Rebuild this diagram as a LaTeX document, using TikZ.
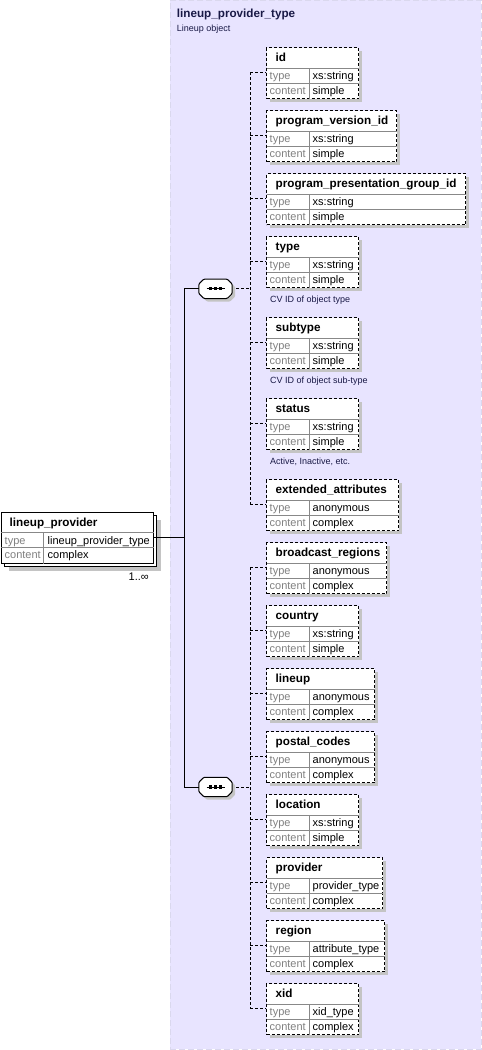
\documentclass[tikz,border=0pt]{standalone}
\usepackage{fontspec}
\setmainfont{Liberation Sans}
\usetikzlibrary{positioning,shadows}
\definecolor{schemabg}{RGB}{232,228,255}
\definecolor{schemaedge}{RGB}{218,216,238}
\definecolor{rowgray}{RGB}{136,136,136}
\definecolor{labelgray}{RGB}{128,128,128}
\definecolor{notenavy}{RGB}{25,25,70}
\definecolor{shadowgray}{RGB}{196,196,196}
% octagon outline of a sequence compositor node
\newcommand\seqoutline[1]{([xshift=5pt]#1.north west) -- ([xshift=-5pt]#1.north east)
    -- ([yshift=-5pt]#1.north east) -- ([yshift=5pt]#1.south east)
    -- ([xshift=-5pt]#1.south east) -- ([xshift=5pt]#1.south west)
    -- ([yshift=5pt]#1.south west) -- ([yshift=-5pt]#1.north west) -- cycle}

\begin{document}
\begin{tikzpicture}[x=1pt, y=-1pt,
    font=\fontsize{11}{13}\selectfont,
    schemabox/.style={draw=schemaedge, dash pattern=on 6pt off 3pt, fill=schemabg, minimum width=311pt, minimum height=1049pt, inner sep=0pt, anchor=north west},
    elembox/.style={draw, line width=1pt, dash pattern=on 3pt off 2pt, fill=white, minimum height=51pt, inner sep=0pt, anchor=north west,
        drop shadow={shadow xshift=3pt, shadow yshift=-3pt, fill=shadowgray, opacity=1}},
    rootbox/.style={draw, line width=1pt, fill=white, minimum width=152pt, minimum height=51pt, inner sep=0pt, anchor=north west},
    seqbox/.style={minimum width=33pt, minimum height=19pt, inner sep=0pt},
    seqline/.style={draw, line width=1pt, fill=white, rounded corners=1pt},
    rowline/.style={draw=rowgray, line width=1pt},
    nametext/.style={font=\fontsize{11.7}{13}\selectfont\bfseries, anchor=base west, inner sep=0pt},
    headtext/.style={nametext, text=notenavy},
    keytext/.style={text=labelgray, anchor=base west, inner sep=0pt},
    valtext/.style={anchor=base west, inner sep=0pt},
    notetext/.style={font=\fontsize{9}{11}\selectfont, text=notenavy, anchor=base west, inner sep=0pt},
    link/.style={line width=1pt},
    dashlink/.style={line width=1pt, dash pattern=on 3pt off 2pt}
]
    \useasboundingbox (0,0) rectangle (482,1050);

    % complex type area
    \node[schemabox] (lpt) at (170,0) {};
    \node[headtext] (lpt-name) at (176.7,17.3) {lineup\_provider\_type};
    \node[notetext] (lpt-note) at (176.7,31) {Lineup object};

    % root element (maxOccurs unbounded)
    \node[rootbox, drop shadow={shadow xshift=4pt, shadow yshift=-4pt, fill=shadowgray, opacity=1}] (lp-back) at (4,515.3) {};
    \node[rootbox] (lp) at (1,512.3) {};
    \draw[rowline] ([yshift=-20pt]lp.north west) -- ([yshift=-20pt]lp.north east);
    \draw[rowline] ([yshift=-35.5pt]lp.north west) -- ([yshift=-35.5pt]lp.north east);
    \draw[rowline] ([xshift=42pt,yshift=-20pt]lp.north west) -- ([xshift=42pt]lp.south west);
    \node[nametext] (lp-name) at ([xshift=8.5pt,yshift=-13.7pt]lp.north west) {lineup\_provider};
    \node[keytext] (lp-typekey) at ([xshift=3.5pt,yshift=-31.7pt]lp.north west) {type};
    \node[valtext] (lp-type) at ([xshift=46.5pt,yshift=-31.7pt]lp.north west) {lineup\_provider\_type};
    \node[keytext] (lp-contkey) at ([xshift=3.5pt,yshift=-46.4pt]lp.north west) {content};
    \node[valtext] (lp-cont) at ([xshift=46.5pt,yshift=-46.4pt]lp.north west) {complex};
    \node[valtext, anchor=base east] (lp-occurs) at ([xshift=-5pt,yshift=-16.5pt]lp.south east) {1..∞};
    \coordinate (lp-out) at ([yshift=-25.5pt]lp.north east);

    % sequences
    \node[seqbox] (seq1) at (215.5,288.8) {};
    \node[seqbox] (seq2) at (215.5,787) {};
    \foreach \s in {seq1,seq2} {
        \fill[shadowgray, rounded corners=1pt, transform canvas={shift={(3pt,-3pt)}}] \seqoutline{\s};
        \path[seqline] \seqoutline{\s};
        \draw[line width=1pt] ([xshift=-9pt]\s.center) -- ([xshift=9pt]\s.center);
        \foreach \dx in {-5,0,5}
            \fill ([xshift=\dx pt]\s.center) +(-1.6,-1.6) rectangle +(1.6,1.6);
    }
    \coordinate (fork) at ([xshift=-14pt]seq1.west);
    \coordinate (s1) at ([xshift=18pt]seq1.east);
    \coordinate (s2) at ([xshift=18pt]seq2.east);

    \draw[link] (lp-out) -- (fork |- lp-out);
    \draw[link] (seq1.west) -- (fork) |- (seq2.west);
    \draw[dashlink] ([xshift=4pt]seq1.east) -- (s1);
    \draw[dashlink] ([xshift=4pt]seq2.east) -- (s2);

    % child elements
    \foreach \n/\y/\bw/\nm/\tp/\ct/\g in {
        id/47/92/id/xs:string/simple/1,
        pvid/110/130/program\_version\_id/xs:string/simple/1,
        ppgid/173/199/program\_presentation\_group\_id/xs:string/simple/1,
        type/236/92/type/xs:string/simple/1,
        subtype/317/92/subtype/xs:string/simple/1,
        status/398/92/status/xs:string/simple/1,
        extattr/479/132/extended\_attributes/anonymous/complex/1,
        bcast/542/120/broadcast\_regions/anonymous/complex/2,
        country/605/92/country/xs:string/simple/2,
        lineup/668/108/lineup/anonymous/complex/2,
        postal/731/108/postal\_codes/anonymous/complex/2,
        location/794/92/location/xs:string/simple/2,
        provider/857/116/provider/provider\_type/complex/2,
        region/920/118/region/attribute\_type/complex/2,
        xid/983/92/xid/xid\_type/complex/2} {
        \node[elembox, minimum width=\bw] (\n) at (266,\y) {};
        \draw[rowline] ([xshift=0.5pt,yshift=-21pt]\n.north west) -- ([xshift=-0.5pt,yshift=-21pt]\n.north east);
        \draw[rowline] ([xshift=0.5pt,yshift=-36.5pt]\n.north west) -- ([xshift=-0.5pt,yshift=-36.5pt]\n.north east);
        \draw[rowline] ([xshift=43pt,yshift=-21pt]\n.north west) -- ([xshift=43pt,yshift=0.5pt]\n.south west);
        \node[nametext] (\n-name) at ([xshift=9.5pt,yshift=-14pt]\n.north west) {\nm};
        \node[keytext] (\n-typekey) at ([xshift=3.5pt,yshift=-32pt]\n.north west) {type};
        \node[valtext] (\n-type) at ([xshift=46.5pt,yshift=-32pt]\n.north west) {\tp};
        \node[keytext] (\n-contkey) at ([xshift=3.5pt,yshift=-47pt]\n.north west) {content};
        \node[valtext] (\n-cont) at ([xshift=46.5pt,yshift=-47pt]\n.north west) {\ct};
        \coordinate (\n-in) at ([yshift=-25pt]\n.north west);
        \draw[dashlink] (s\g |- \n-in) -- (\n-in);
    }
    \draw[dashlink] (s1 |- id-in) -- (s1 |- extattr-in);
    \draw[dashlink] (s2 |- bcast-in) -- (s2 |- xid-in);

    % annotations
    \node[notetext] (type-note) at ([xshift=4pt,yshift=-66.5pt]type.north west) {CV ID of object type};
    \node[notetext] (subtype-note) at ([xshift=4pt,yshift=-66.5pt]subtype.north west) {CV ID of object sub-type};
    \node[notetext] (status-note) at ([xshift=4pt,yshift=-66.5pt]status.north west) {Active, Inactive, etc.};
\end{tikzpicture}
\end{document}
